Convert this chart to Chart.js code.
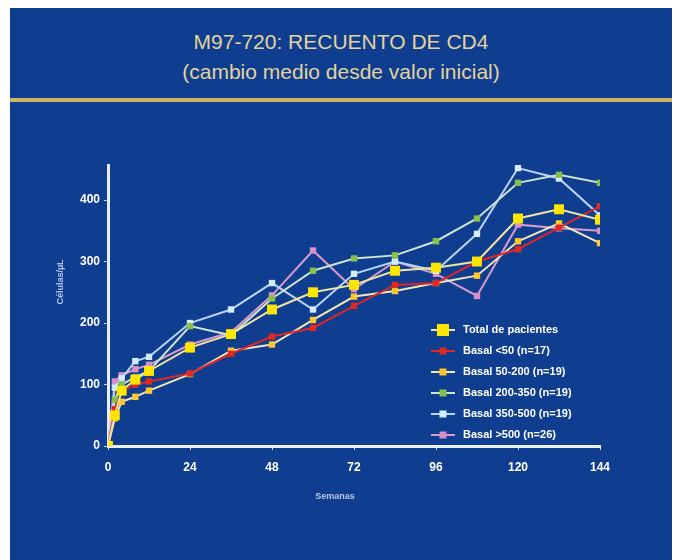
<!DOCTYPE html>
<html>
<head>
<meta charset="utf-8">
<script src="https://cdn.jsdelivr.net/npm/chart.js@4.4.0/dist/chart.umd.min.js"></script>
<style>
  html, body { margin: 0; padding: 0; background: #fff; }
  #slide {
    position: absolute; left: 10px; top: 8px; width: 662px; height: 552px;
    background: #0f3d8f; overflow: hidden;
  }
  .ttl {
    position: absolute; left: 0; width: 662px; text-align: center;
    font-family: "Liberation Sans", Arial, sans-serif; font-size: 21px; color: #e3d49c;
  }
  #rule { position: absolute; left: 0; top: 90px; width: 662px; height: 4px; background: #cbb667; }
  #wrap { position: absolute; left: 0; top: 0; width: 681px; height: 560px; }
  .axt {
    position: absolute; font-family: "Liberation Sans", Arial, sans-serif;
    font-size: 9px; font-weight: bold; color: #b8c8ea;
  }
</style>
</head>
<body>
<div id="slide">
  <div class="ttl" style="top:22px">M97-720: RECUENTO DE CD4</div>
  <div class="ttl" style="top:52px">(cambio medio desde valor inicial)</div>
  <div id="rule"></div>
</div>
<div id="wrap"><canvas id="cd4"></canvas></div>
<div class="axt" style="left:30px;top:277px;transform:rotate(-90deg);transform-origin:center;width:60px;text-align:center">Células/µL</div>
<div class="axt" style="left:305px;top:491px;width:60px;text-align:center">Semanas</div>
<script>
const weeks = [0, 2, 4, 8, 12, 24, 36, 48, 60, 72, 84, 96, 108, 120, 132, 144];
const total = [0, 50, 90, 108, 122, 160, 182, 222, 250, 262, 285, 290, 300, 370, 385, 368];
const basal50 = [0, 60, 88, 100, 105, 118, 150, 178, 192, 228, 262, 265, 300, 320, 355, 390];
const basal50_200 = [0, 45, 72, 80, 90, 117, 155, 165, 205, 243, 252, 265, 277, 333, 362, 330];
const basal200_350 = [0, 75, 100, 112, 122, 195, 180, 240, 285, 305, 310, 333, 370, 428, 441, 428];
const basal350_500 = [0, 95, 110, 138, 145, 200, 222, 265, 222, 280, 300, 285, 345, 452, 435, 375];
const basal500 = [0, 105, 115, 125, 132, 165, 185, 245, 318, 255, 300, 280, 244, 360, 354, 350];

const seriesNames = [
  'Total de pacientes',
  'Basal <50 (n=17)',
  'Basal 50-200 (n=19)',
  'Basal 200-350 (n=19)',
  'Basal 350-500 (n=19)',
  'Basal >500 (n=26)',
];
const xTicks = [0, 24, 48, 72, 96, 120, 144];
const yTicks = [0, 100, 200, 300, 400];

function pts(vals) {
  return weeks.map((w, i) => ({ x: w, y: vals[i] }));
}

const styles = [
  { line: '#efe4a0', point: '#ffe600', r: 7 },
  { line: '#d8282a', point: '#e02a20', r: 4.5 },
  { line: '#f2e7b8', point: '#ffc62e', r: 4.5 },
  { line: '#cfe3d0', point: '#86c24a', r: 4.5 },
  { line: '#b8d4f8', point: '#d4ecff', r: 4.5 },
  { line: '#d89ccc', point: '#d890c8', r: 4.5 },
];
const values = [total, basal50, basal50_200, basal200_350, basal350_500, basal500];

const datasets = values.map((v, i) => ({
  label: seriesNames[i],
  data: pts(v),
  borderColor: styles[i].line,
  borderWidth: 2,
  pointStyle: 'rect',
  pointRadius: styles[i].r,
  pointBackgroundColor: styles[i].point,
  pointBorderColor: styles[i].point,
  pointBorderWidth: 0,
  tension: 0,
}));

// legend drawn inside the plot area
const insideLegend = {
  id: 'insideLegend',
  afterDraw(chart) {
    const ctx = chart.ctx;
    ctx.save();
    ctx.font = 'bold 11px "Liberation Sans", Arial, sans-serif';
    ctx.textBaseline = 'middle';
    chart.data.datasets.forEach((ds, i) => {
      const y = 330 + i * 21;
      ctx.strokeStyle = ds.borderColor;
      ctx.lineWidth = 2;
      ctx.beginPath();
      ctx.moveTo(431, y);
      ctx.lineTo(455, y);
      ctx.stroke();
      const s = (i === 0 ? 6 : 3.5);
      ctx.fillStyle = ds.pointBackgroundColor;
      ctx.fillRect(443 - s, y - s, 2 * s, 2 * s);
      ctx.fillStyle = '#ffffff';
      ctx.fillText(ds.label, 463, y);
    });
    ctx.restore();
  }
};

new Chart(document.getElementById('cd4'), {
  type: 'line',
  data: { datasets: datasets },
  plugins: [insideLegend],
  options: {
    responsive: true,
    maintainAspectRatio: false,
    animation: false,
    layout: { padding: { left: 40, right: 81, top: 165, bottom: 44 } },
    plugins: { legend: { display: false }, tooltip: { enabled: false } },
    scales: {
      x: {
        type: 'linear',
        min: 0, max: 144,
        afterBuildTicks: (s) => { s.ticks = xTicks.map(v => ({ value: v })); },
        afterFit: (s) => { s.height = 70; },
        border: { display: true, color: '#e8f0ff', width: 3 },
        grid: { drawOnChartArea: false, drawTicks: true, tickLength: 4, color: '#c8d8f0' },
        ticks: {
          color: '#ffffff', padding: 10,
          font: { family: '"Liberation Sans", Arial, sans-serif', size: 12, weight: 'bold' },
        },
      },
      y: {
        min: 0, max: 457,
        afterBuildTicks: (s) => { s.ticks = yTicks.map(v => ({ value: v })); },
        afterFit: (s) => { s.width = 68; },
        border: { display: true, color: '#e8f0ff', width: 3 },
        grid: { drawOnChartArea: false, drawTicks: true, tickLength: 4, color: '#c8d8f0' },
        ticks: {
          color: '#ffffff', padding: 4,
          font: { family: '"Liberation Sans", Arial, sans-serif', size: 12, weight: 'bold' },
        },
      },
    },
  },
});
</script>
</body>
</html>
